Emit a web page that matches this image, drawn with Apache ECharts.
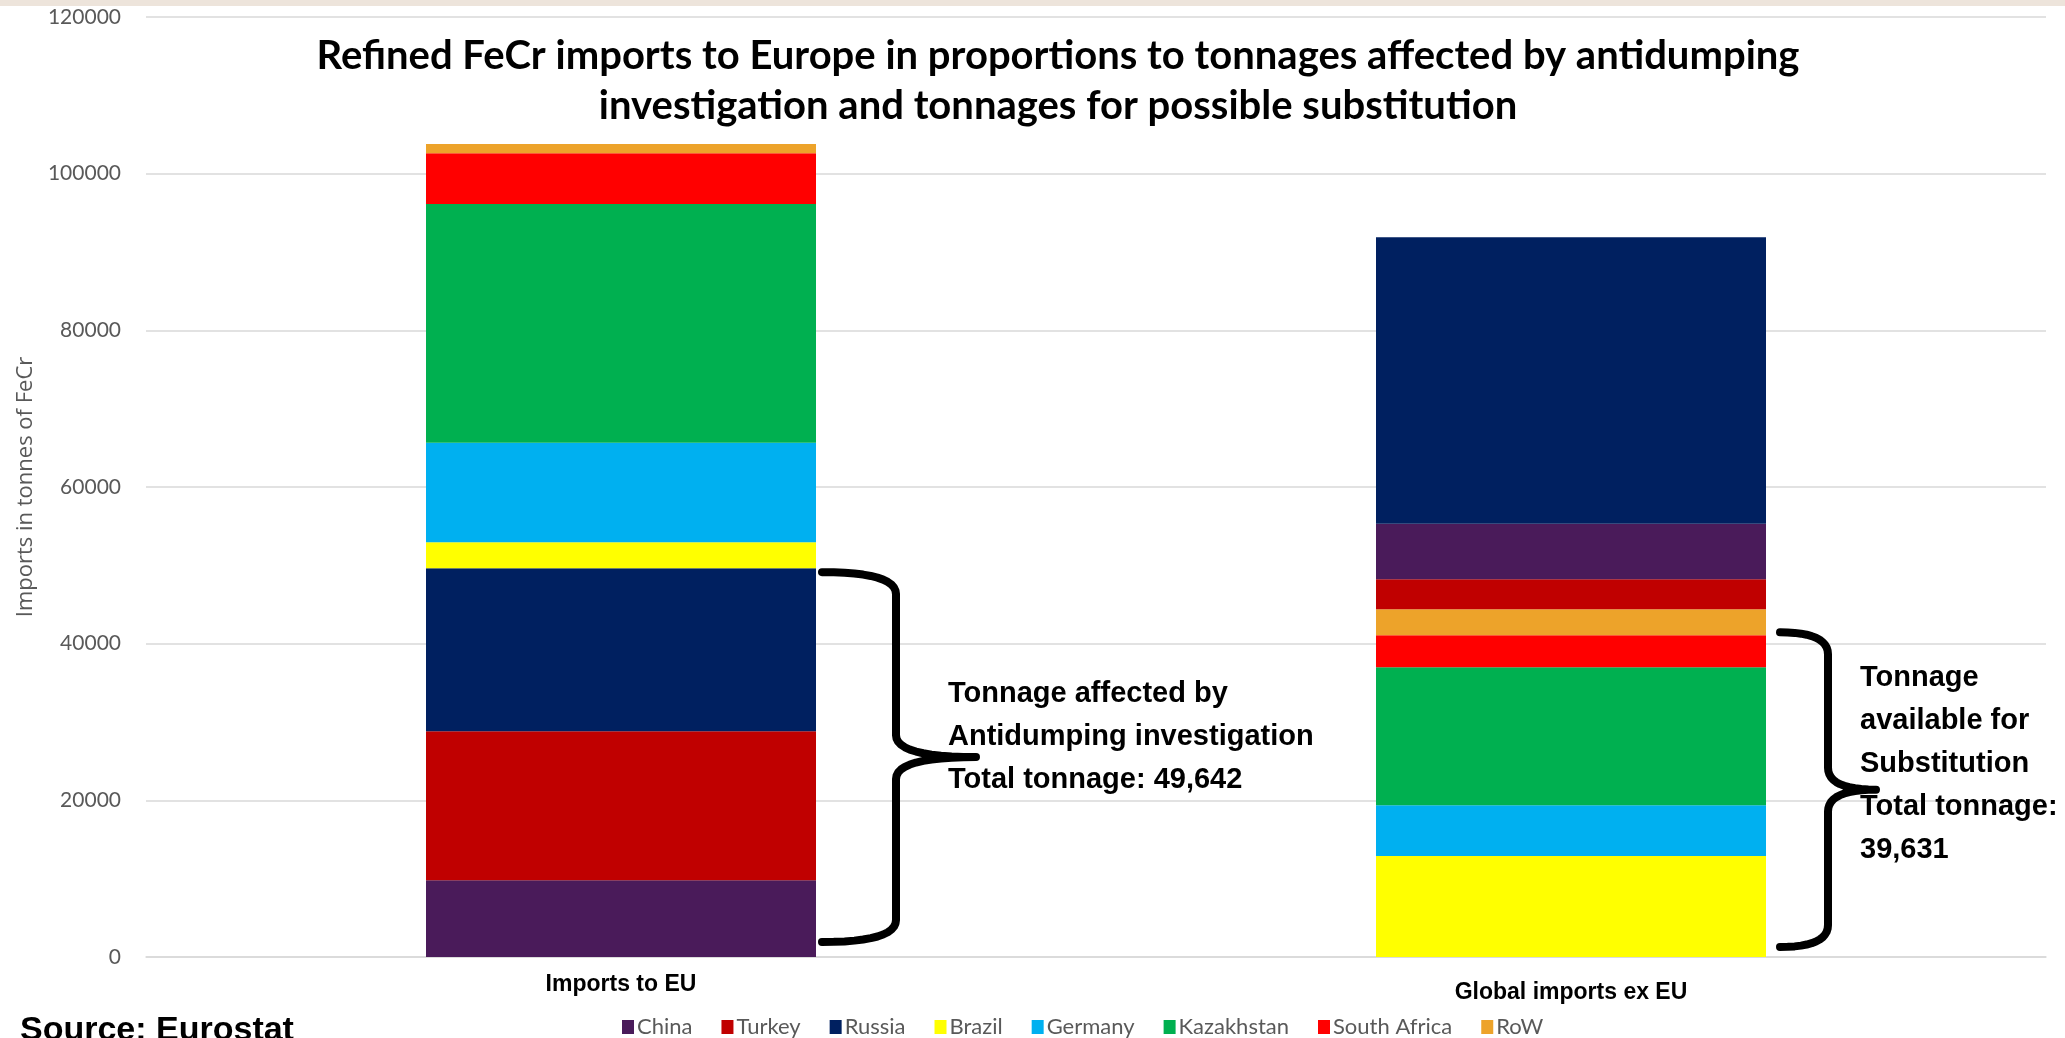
<!DOCTYPE html>
<html>
<head>
<meta charset="utf-8">
<script src="https://cdn.jsdelivr.net/npm/echarts@6/dist/echarts.min.js"></script>
<style>
html,body{margin:0;padding:0;background:#fff;}
#c{width:2065px;height:1038px;}
</style>
</head>
<body>
<div id="c"></div>
<script>
// ---- data ----
var categories = ['Imports to EU', 'Global imports ex EU'];
var countries = ['China', 'Turkey', 'Russia', 'Brazil', 'Germany', 'Kazakhstan', 'South Africa', 'RoW'];
var colors = ['#4A1B5A', '#C00000', '#002060', '#FFFF00', '#00B0F0', '#00B050', '#FF0000', '#EDA32A'];
// tonnes, same order as countries
var importsToEU = [9790, 19020, 20832, 3320, 12680, 30470, 6510, 1150];
var globalImportsExEU = [7100, 3830, 36560, 12890, 6470, 17620, 4090, 3320];
// stacking order (bottom to top) per bar
var stackOrderEU = ['China', 'Turkey', 'Russia', 'Brazil', 'Germany', 'Kazakhstan', 'South Africa', 'RoW'];
var stackOrderGlobal = ['Brazil', 'Germany', 'Kazakhstan', 'South Africa', 'RoW', 'Turkey', 'China', 'Russia'];
var affectedCountries = ['China', 'Turkey', 'Russia'];
var substitutionCountries = ['Brazil', 'Germany', 'Kazakhstan', 'South Africa'];
var yTicks = [0, 20000, 40000, 60000, 80000, 100000, 120000];
var titleText = 'Refined FeCr imports to Europe in proportions to tonnages affected by antidumping\ninvestigation and tonnages for possible substitution';
var leftNote = 'Tonnage affected by\nAntidumping investigation\nTotal tonnage: 49,642';
var rightNote = 'Tonnage\navailable for\nSubstitution\nTotal tonnage:\n39,631';

var chart = echarts.init(document.getElementById('c'));

function val(arr, name) { return arr[countries.indexOf(name)]; }
function col(name) { return colors[countries.indexOf(name)]; }

var series = [];
stackOrderEU.forEach(function (n) {
  series.push({ name: n, type: 'bar', stack: 'all', barWidth: 390,
    itemStyle: { color: col(n) }, data: [val(importsToEU, n), '-'] });
});
stackOrderGlobal.forEach(function (n) {
  series.push({ name: n, type: 'bar', stack: 'all', barWidth: 390,
    itemStyle: { color: col(n) }, data: ['-', val(globalImportsExEU, n)] });
});

var option = {
  animation: false,
  backgroundColor: '#ffffff',
  title: {
    text: titleText,
    left: 1053, top: 26, textAlign: 'center',
    textStyle: { fontFamily: 'Lato', fontWeight: 'bold', fontSize: 40, color: '#000', lineHeight: 50 }
  },
  legend: {
    data: countries,
    left: 617, top: 1011,
    icon: 'rect', itemWidth: 12, itemHeight: 14, itemGap: 29,
    textStyle: { fontFamily: 'Lato', fontSize: 22, color: '#595959', padding: [0, 0, 0, -2] }
  },
  grid: { left: 146, right: 19, top: 17, bottom: 81, containLabel: false },
  xAxis: {
    type: 'category', data: categories,
    axisTick: { show: false },
    axisLine: { lineStyle: { color: '#D9D9D9', width: 1.5 } },
    axisLabel: {
      margin: 16,
      formatter: function (v, i) { return i === 0 ? '{a|' + v + '}' : '{b|' + v + '}'; },
      rich: {
        a: { fontFamily: 'Liberation Sans', fontWeight: 'bold', fontSize: 23, color: '#000' },
        b: { fontFamily: 'Liberation Sans', fontWeight: 'bold', fontSize: 23, color: '#000', padding: [8, 0, 0, 0] }
      }
    }
  },
  yAxis: {
    type: 'value', min: yTicks[0], max: yTicks[yTicks.length - 1], interval: 20000,
    name: 'Imports in tonnes of FeCr', nameLocation: 'middle', nameGap: 103, nameRotate: 90,
    nameTextStyle: { fontFamily: 'Open Sans', fontSize: 22, color: '#595959' },
    axisLine: { show: false }, axisTick: { show: false },
    axisLabel: { fontFamily: 'Lato', fontSize: 21, color: '#595959', margin: 25,
      formatter: function (v) { return String(v); } },
    splitLine: { lineStyle: { color: '#D9D9D9', width: 1.5 } }
  },
  series: series
};
chart.setOption(option);

function sumOf(arr, names) { return names.reduce(function (s, n) { return s + val(arr, n); }, 0); }

function quad(pts, a, c, b) {
  for (var i = 1; i <= 12; i++) {
    var t = i / 12, u = 1 - t;
    pts.push([u * u * a[0] + 2 * u * t * c[0] + t * t * b[0], u * u * a[1] + 2 * u * t * c[1] + t * t * b[1]]);
  }
}
function brace(x0, xv, xt, yTop, yBot) {
  var ym = (yTop + yBot) / 2, r = 22;
  var pts = [[x0, yTop]];
  quad(pts, [x0, yTop], [xv, yTop], [xv, yTop + r]);
  pts.push([xv, ym - r]);
  quad(pts, [xv, ym - r], [xv, ym], [xt, ym]);
  quad(pts, [xt, ym], [xv, ym], [xv, ym + r]);
  pts.push([xv, yBot - r]);
  quad(pts, [xv, yBot - r], [xv, yBot], [x0, yBot]);
  return pts;
}

var p0 = chart.convertToPixel({ gridIndex: 0 }, [0, 0]);
var p1 = chart.convertToPixel({ gridIndex: 0 }, [0, sumOf(importsToEU, affectedCountries)]);
var q0 = chart.convertToPixel({ gridIndex: 0 }, [1, 0]);
var q1 = chart.convertToPixel({ gridIndex: 0 }, [1, sumOf(globalImportsExEU, substitutionCountries)]);
var r1 = p0[0] + 195, r2 = q0[0] + 195;

chart.setOption({
  graphic: [
    { type: 'rect', left: 0, top: 0, shape: { width: 2065, height: 6 }, style: { fill: '#EDE4DB' }, silent: true },
    { type: 'polyline', shape: { points: brace(r1 + 6, r1 + 80, r1 + 160, p1[1] + 4, p0[1] - 15) },
      style: { fill: null, stroke: '#000', lineWidth: 8, lineJoin: 'round', lineCap: 'round' } },
    { type: 'polyline', shape: { points: brace(r2 + 14, r2 + 62, r2 + 110, q1[1] - 3, p0[1] - 10) },
      style: { fill: null, stroke: '#000', lineWidth: 8, lineJoin: 'round', lineCap: 'round' } },
    { type: 'text', left: 948, top: 672, style: { text: leftNote, fill: '#000',
      font: 'bold 29px "Liberation Sans", Arial, sans-serif', lineHeight: 43 } },
    { type: 'text', left: 1860, top: 656, style: { text: rightNote, fill: '#000',
      font: 'bold 29px "Liberation Sans", Arial, sans-serif', lineHeight: 43 } },
    { type: 'text', left: 20, top: 1014, style: { text: 'Source: Eurostat', fill: '#000',
      font: 'bold 34px "Liberation Sans", Arial, sans-serif' } }
  ]
});
</script>
</body>
</html>
